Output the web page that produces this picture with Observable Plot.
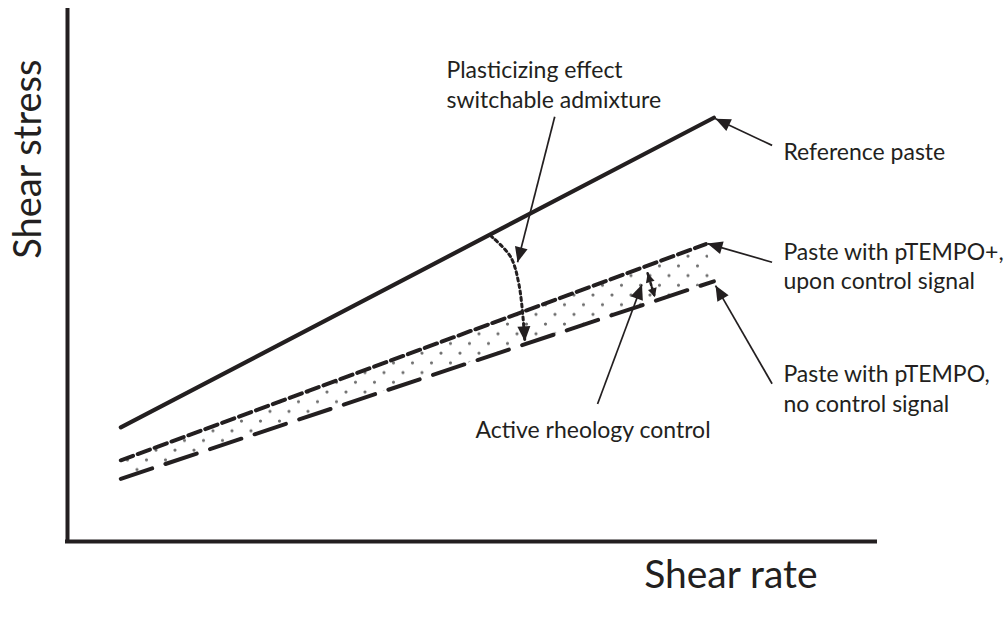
<!DOCTYPE html>
<html>
<head>
<meta charset="utf-8">
<script src="https://cdn.jsdelivr.net/npm/d3@7"></script>
<script src="https://cdn.jsdelivr.net/npm/@observablehq/plot@0.6"></script>
<style>
  html, body { margin: 0; padding: 0; background: #fff; }
  #chart svg { display: block; }
</style>
</head>
<body>
<div id="chart"></div>
<script>
// Schematic flow curves (arbitrary units, 0–100 on both axes)
const shearRate = [6.6, 80];
const referencePaste = [21.5, 79.8];
const pTempoPlusRate = [6.6, 79];
const pTempoPlus = [15.3, 56];
const pTempo = [11.8, 49];

// Annotation texts and their anchor points (data units)
const labelText = [
  "Plasticizing effect\nswitchable admixture",
  "Reference paste",
  "Paste with pTEMPO+,\nupon control signal",
  "Paste with pTEMPO,\nno control signal",
  "Active rheology control"
];
const labelX = [46.9, 88.6, 88.6, 88.6, 50.5];
const labelY = [91.2, 75.9, 57.1, 34.1, 23.4];

// Pointer arrows from each label to the feature it names
const pointerFromX = [60.3, 87.2, 87.2, 87.2, 65.6];
const pointerFromY = [80.0, 74.6, 52.6, 29.7, 25.9];
const pointerToX = [55.7, 80.2, 79.2, 80.2, 71.1];
const pointerToY = [52.6, 79.6, 56.1, 48.2, 48.4];

// Dotted arc marking the drop from reference paste to pTEMPO paste
const arcX = [52.35, 54.8, 55.9, 56.6];
const arcY = [57.6, 53.7, 48.2, 37.7];

// Dotted double arrow spanning the switchable band
const spanX = [71.8, 72.7];
const spanY = [50.5, 46.0];

const axisTitles = ["Shear stress", "Shear rate"];

const ink = "#231f20";
const font = "Lato, 'Open Sans', sans-serif";

const curve = (xs, ys) => xs.map((x, i) => ({x, y: ys[i]}));
const band = shearRate.map((_, i) => ({x1: pTempoPlusRate[i], y1: pTempoPlus[i], x2: shearRate[i], y2: pTempo[i]}));
const labels = labelText.map((text, i) => ({text, x: labelX[i], y: labelY[i]}));
const pointers = pointerFromX.map((_, i) => ({x1: pointerFromX[i], y1: pointerFromY[i], x2: pointerToX[i], y2: pointerToY[i]}));

const chart = Plot.plot({
  width: 1006,
  height: 618,
  marginLeft: 67,
  marginRight: 131,
  marginTop: 10,
  marginBottom: 77,
  x: {domain: [0, 100], axis: null},
  y: {domain: [0, 100], axis: null},
  style: {background: "#fff", fontFamily: font, color: ink},
  marks: [
    // switchable band between the two pTEMPO curves
    Plot.area(band, {x1: "x1", y1: "y1", x2: "x2", y2: "y2", fill: "url(#band-dots)"}),
    // axes
    Plot.ruleX([0], {y1: 0, y2: 100, stroke: ink, strokeWidth: 4, strokeLinecap: "square"}),
    Plot.ruleY([0], {x1: 0, x2: 100, stroke: ink, strokeWidth: 4, strokeLinecap: "square"}),
    // flow curves
    Plot.line(curve(shearRate, referencePaste), {x: "x", y: "y", stroke: ink, strokeWidth: 4.2}),
    Plot.line(curve(pTempoPlusRate, pTempoPlus), {x: "x", y: "y", stroke: ink, strokeWidth: 4, strokeDasharray: "13,5"}),
    Plot.line(curve(shearRate, pTempo), {x: "x", y: "y", stroke: ink, strokeWidth: 4, strokeDasharray: "33,14"}),
    // dotted indicators
    Plot.line(curve(arcX, arcY), {x: "x", y: "y", curve: "catmull-rom", stroke: ink, strokeWidth: 3, strokeDasharray: "3,3.5", ariaDescription: "arc"}),
    Plot.line(curve(spanX, spanY), {x: "x", y: "y", stroke: ink, strokeWidth: 2.6, strokeDasharray: "2.5,2.5", ariaDescription: "span"}),
    // pointers
    Plot.link(pointers, {x1: "x1", y1: "y1", x2: "x2", y2: "y2", stroke: ink, strokeWidth: 1.7, ariaDescription: "pointer"}),
    // annotation texts
    Plot.text(labels, {x: "x", y: "y", text: "text", textAnchor: "start", lineAnchor: "top", lineHeight: 1.3, fontSize: 23, fill: ink}),
    // axis titles
    Plot.text([axisTitles[0]], {x: -4.8, y: 72, text: d => d, rotate: -90, fontSize: 38, fill: ink, lineAnchor: "middle"}),
    Plot.text([axisTitles[1]], {x: 82.1, y: -6.4, text: d => d, fontSize: 39, fill: ink, lineAnchor: "middle"})
  ]
});

// dot pattern for the band and triangular arrowheads
const svg = d3.select(chart);
const defs = svg.insert("defs", ":first-child");
const pat = defs.append("pattern")
  .attr("id", "band-dots")
  .attr("patternUnits", "userSpaceOnUse")
  .attr("width", 19).attr("height", 19.4);
pat.append("circle").attr("cx", 4).attr("cy", 4).attr("r", 1.6).attr("fill", "#6e6e6e");
pat.append("circle").attr("cx", 13.5).attr("cy", 13.7).attr("r", 1.6).attr("fill", "#6e6e6e");

function head(id, len, half, orient) {
  defs.append("marker")
    .attr("id", id)
    .attr("markerUnits", "userSpaceOnUse")
    .attr("orient", orient)
    .attr("refX", 0).attr("refY", 0)
    .attr("markerWidth", 40).attr("markerHeight", 40)
    .attr("viewBox", "-20 -20 40 40")
    .style("overflow", "visible")
    .append("path")
    .attr("d", `M0,0L${-len},${-half}L${-len},${half}Z`)
    .attr("fill", ink);
}
head("head", 15, 6.5, "auto");
head("head-small", 9, 4.5, "auto");
head("head-small-start", 9, 4.5, "auto-start-reverse");

svg.selectAll('g[aria-description="pointer"] path').attr("marker-end", "url(#head)");
svg.selectAll('g[aria-description="arc"] path').attr("marker-end", "url(#head)");
svg.selectAll('g[aria-description="span"] path')
  .attr("marker-end", "url(#head-small)")
  .attr("marker-start", "url(#head-small-start)");

document.getElementById("chart").appendChild(chart);
</script>
</body>
</html>
